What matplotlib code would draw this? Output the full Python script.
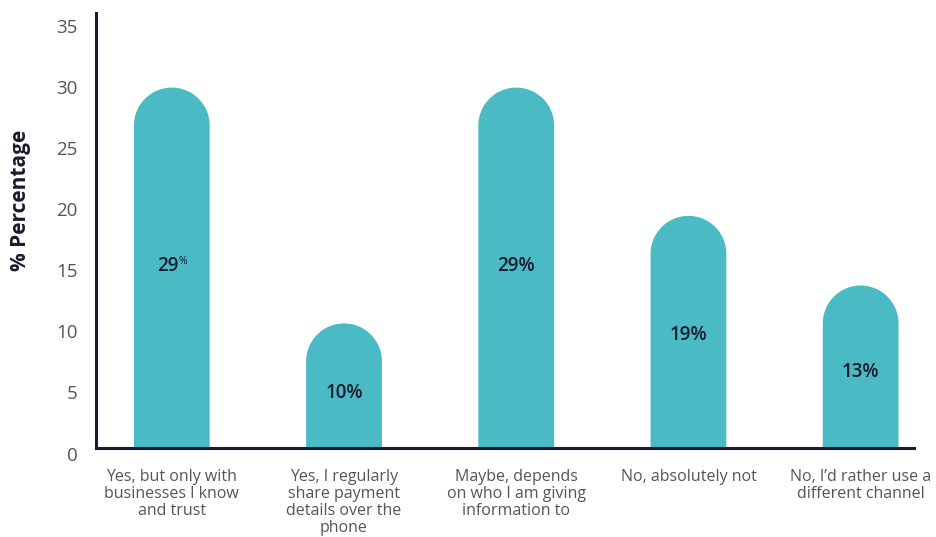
import matplotlib
matplotlib.use("Agg")
import matplotlib.pyplot as plt
from matplotlib.patches import PathPatch
from matplotlib.path import Path
from matplotlib.transforms import ScaledTranslation
import numpy as np

categories = [
    "Yes, but only with\nbusinesses I know\nand trust",
    "Yes, I regularly\nshare payment\ndetails over the\nphone",
    "Maybe, depends\non who I am giving\ninformation to",
    "No, absolutely not",
    "No, I\u2019d rather use a\ndifferent channel",
]
values = [29.5, 10.2, 29.5, 19.0, 13.3]
value_labels = ["29", "10%", "29%", "19%", "13%"]
yticks = [0, 5, 10, 15, 20, 25, 30, 35]

BAR = "#4ABBC5"
DARK = "#1B1B2F"
GRAY = "#555555"

plt.rcParams['font.family'] = ['Open Sans', 'DejaVu Sans']

fig = plt.figure(figsize=(9.37, 5.37), dpi=100)
ax = fig.add_axes([0.1025, 0.1657, 0.873, 0.81])
x = np.arange(len(categories))
width = 0.44
ax.set_xlim(-0.44, 4.31)
ax.set_ylim(0, 35.6)

# radius of rounded caps in data units
fig.canvas.draw()
p0 = ax.transData.transform((0, 0))
p1 = ax.transData.transform((1, 1))
px_x = p1[0] - p0[0]
px_y = p1[1] - p0[1]
rx = width / 2
ry = rx * px_x / px_y

theta = np.linspace(0, np.pi, 60)
for xi, v in zip(x, values):
    cy = v - ry
    arc_x = xi + rx * np.cos(theta)
    arc_y = cy + ry * np.sin(theta)
    vx = np.concatenate([[xi + rx], arc_x, [xi - rx, xi + rx]])
    vy = np.concatenate([[0], arc_y, [0, 0]])
    verts = np.column_stack([vx, vy])
    codes = [Path.MOVETO] + [Path.LINETO] * (len(verts) - 2) + [Path.CLOSEPOLY]
    ax.add_patch(PathPatch(Path(verts, codes), facecolor=BAR, edgecolor='none', linewidth=0))

for i, (xi, v, lab) in enumerate(zip(x, values, value_labels)):
    y = 0.54 * v - 1.0
    if i == 0:
        ax.text(xi - 0.02, y, lab, ha='center', va='center', fontsize=13.5,
                color=DARK, fontweight='semibold')
        ax.annotate("%", xy=(xi - 0.02, y), xytext=(7, 3), textcoords='offset points',
                    ha='left', va='center', fontsize=7.5, color=DARK)
    else:
        ax.text(xi, y, lab, ha='center', va='center', fontsize=13.5,
                color=DARK, fontweight='semibold')

ax.set_xticks(x)
ax.set_xticklabels(categories, fontsize=11.5, color=GRAY, linespacing=1.1)
ax.set_yticks(yticks)
ax.set_yticklabels([str(t) for t in yticks], fontsize=13.5, color=GRAY)
ax.tick_params(axis='both', length=0)
ax.tick_params(axis='y', pad=13)
ax.tick_params(axis='x', pad=15)
for lab in ax.get_yticklabels():
    lab.set_transform(lab.get_transform() + ScaledTranslation(0, -4 / 72, fig.dpi_scale_trans))

for s in ['top', 'right']:
    ax.spines[s].set_visible(False)
for s in ['left', 'bottom']:
    ax.spines[s].set_color(DARK)
    ax.spines[s].set_linewidth(2.2)

ax.set_ylabel("% Percentage", fontsize=15, fontweight='bold', color=DARK)
ax.yaxis.set_label_coords(-0.079, 0.57)

fig.savefig("out.png", dpi=100)
